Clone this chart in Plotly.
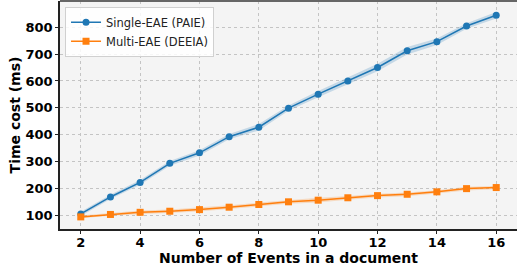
import plotly.graph_objects as go

events = [2, 3, 4, 5, 6, 7, 8, 9, 10, 11, 12, 13, 14, 15, 16]
paie = [106, 169, 223, 294, 333, 393, 428, 499, 551, 600, 650, 712, 746, 804, 844]
paie_err = [8, 8, 9, 9, 10, 10, 12, 10, 12, 12, 14, 14, 12, 10, 12]
deeia = [95, 104, 112, 116, 122, 131, 141, 151, 157, 166, 174, 179, 188, 200, 204]
deeia_err = [5, 5, 7, 6, 7, 7, 7, 7, 9, 7, 7, 7, 6, 7, 6]

x_ticks = [2, 4, 6, 8, 10, 12, 14, 16]
y_ticks = [100, 200, 300, 400, 500, 600, 700, 800]

blue = "#1f77b4"
orange = "#ff7f0e"

fig = go.Figure()

def band(y, e, fillcolor):
    up = [a + b for a, b in zip(y, e)]
    lo = [a - b for a, b in zip(y, e)]
    fig.add_trace(go.Scatter(x=events, y=up, mode="lines", line=dict(width=0),
                             showlegend=False, hoverinfo="skip"))
    fig.add_trace(go.Scatter(x=events, y=lo, mode="lines", line=dict(width=0),
                             fill="tonexty", fillcolor=fillcolor,
                             showlegend=False, hoverinfo="skip"))

band(paie, paie_err, "rgba(31,119,180,0.22)")
band(deeia, deeia_err, "rgba(255,127,14,0.22)")

fig.add_trace(go.Scatter(x=events, y=paie, mode="lines+markers", name="Single-EAE (PAIE)",
                         line=dict(color=blue, width=1.5),
                         marker=dict(symbol="circle", size=7, color=blue)))
fig.add_trace(go.Scatter(x=events, y=deeia, mode="lines+markers", name="Multi-EAE (DEEIA)",
                         line=dict(color=orange, width=1.5),
                         marker=dict(symbol="square", size=7, color=orange)))

grid = dict(showgrid=True, gridcolor="#c4c4c4", griddash="dot", gridwidth=1, zeroline=False)

fig.update_xaxes(range=[1.3, 16.7], tickvals=x_ticks, ticks="outside", ticklen=3,
                 tickcolor="#222", showline=True, linecolor="#222", linewidth=1.5,
                 automargin=False, ticklabelstandoff=-2,
                 tickfont=dict(family="DejaVu Sans", size=13, color="black", weight="bold"),
                 title=dict(text="<b>Number of Events in a document</b>",
                            font=dict(family="DejaVu Sans", size=14, color="black"),
                            standoff=0),
                 **grid)
fig.update_yaxes(range=[50, 897], tickvals=y_ticks, ticks="outside", ticklen=3,
                 tickcolor="#222", showline=True, linecolor="#222", linewidth=1.5,
                 automargin=False,
                 tickfont=dict(family="DejaVu Sans", size=13, color="black", weight="bold"),
                 title=dict(text="<b>Time cost (ms)</b>",
                            font=dict(family="DejaVu Sans", size=14, color="black"),
                            standoff=2),
                 **grid)

fig.update_layout(
    width=518, height=271,
    margin=dict(l=60, r=1, t=1, b=42),
    paper_bgcolor="white",
    plot_bgcolor="#f4f4f4",
    showlegend=True,
    legend=dict(x=0.011, y=0.975, xanchor="left", yanchor="top",
                bgcolor="rgba(255,255,255,0.85)", bordercolor="#d0d0d0", borderwidth=1,
                font=dict(family="DejaVu Sans", size=11.5, color="#222"),
                traceorder="normal", tracegroupgap=0),
    shapes=[dict(type="line", xref="paper", yref="paper", x0=0, x1=1, y0=1, y1=1,
                 line=dict(color="#666", width=2))],
)

fig.write_html("out.html", config={"displayModeBar": False},
               post_script="document.body.style.margin='0';document.body.style.overflow='hidden';")
